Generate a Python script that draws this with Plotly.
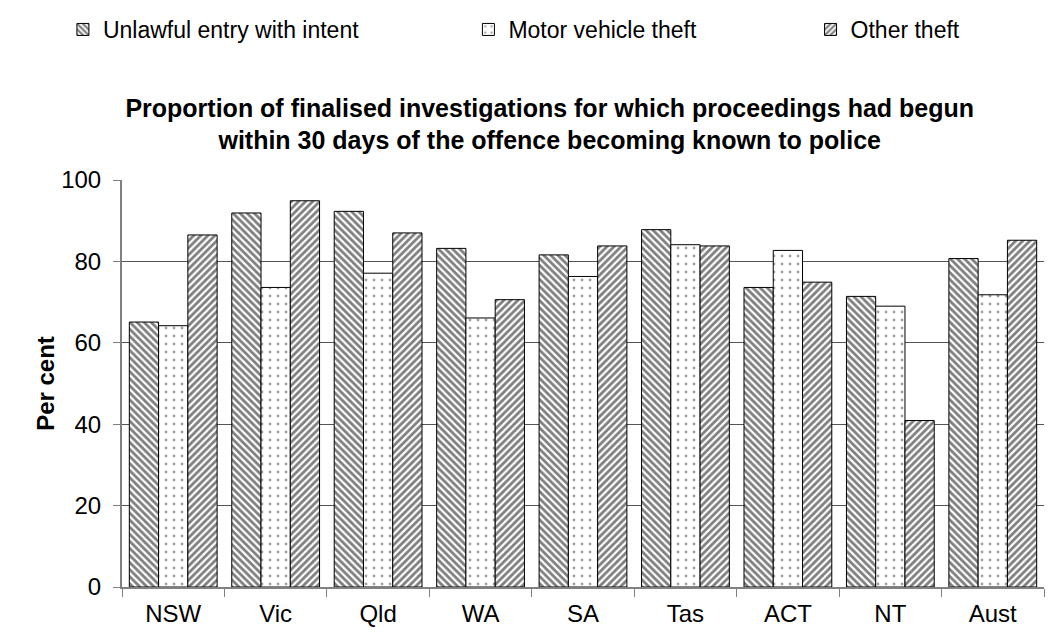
import plotly.graph_objects as go

categories = ["NSW", "Vic", "Qld", "WA", "SA", "Tas", "ACT", "NT", "Aust"]
unlawful_entry = [65.1, 91.9, 92.3, 83.2, 81.6, 87.8, 73.6, 71.4, 80.7]
motor_vehicle = [64.2, 73.6, 77.1, 66.1, 76.3, 84.1, 82.7, 69.0, 71.8]
other_theft = [86.5, 94.9, 87.0, 70.6, 83.8, 83.8, 74.9, 40.9, 85.2]
series_names = ["Unlawful entry with intent", "Motor vehicle theft", "Other theft"]
y_ticks = [0, 20, 40, 60, 80, 100]

FONT = "Liberation Sans, Arial, sans-serif"

fig = go.Figure()
fig.add_trace(go.Bar(
    x=categories, y=unlawful_entry, name=series_names[0], legend="legend",
    marker=dict(color="white", line=dict(color="black", width=1),
                pattern=dict(shape="\\", fgcolor="black", bgcolor="white", size=5, solidity=0.55)),
))
fig.add_trace(go.Bar(
    x=categories, y=motor_vehicle, name=series_names[1], legend="legend2",
    marker=dict(color="white", line=dict(color="black", width=1),
                pattern=dict(shape=".", fgcolor="#444444", bgcolor="white", size=8, solidity=0.1)),
))
fig.add_trace(go.Bar(
    x=categories, y=other_theft, name=series_names[2], legend="legend3",
    marker=dict(color="white", line=dict(color="black", width=1),
                pattern=dict(shape="/", fgcolor="black", bgcolor="white", size=5, solidity=0.55)),
))

legend_common = dict(orientation="h", xref="container", yref="container",
                     yanchor="top", y=1.0, font=dict(family=FONT, size=23, color="black"),
                     bgcolor="rgba(0,0,0,0)", itemwidth=30)

fig.update_layout(
    width=1056, height=633,
    margin=dict(l=114, r=20, t=172, b=54),
    paper_bgcolor="white", plot_bgcolor="white",
    font=dict(family=FONT, size=23, color="black"),
    barmode="group", bargap=0.143, bargroupgap=0,
    title=dict(
        text="<b>Proportion of finalised investigations for which proceedings had begun<br>within 30 days of the offence becoming known to police</b>",
        x=0.513, xanchor="center", xref="container", y=0.8285, yref="container", yanchor="middle",
        font=dict(family=FONT, size=25, color="black"),
    ),
    legend=dict(**legend_common, x=0.052, xanchor="left"),
    legend2=dict(**legend_common, x=0.436, xanchor="left"),
    legend3=dict(**legend_common, x=0.76, xanchor="left"),
    showlegend=True,
)

fig.update_yaxes(
    range=[0, 100], tickvals=y_ticks, ticks="outside", ticklen=7, tickcolor="#808080",
    showline=True, linecolor="#808080", linewidth=2,
    showgrid=True, gridcolor="#555555", gridwidth=1,
    zeroline=False, ticklabelstandoff=7,
    tickfont=dict(family=FONT, size=24, color="black"),
    title=dict(text="<b>Per cent</b>", font=dict(family=FONT, size=24, color="black"), standoff=0),
)
fig.update_xaxes(
    ticks="outside", tickson="boundaries", ticklen=8, tickcolor="#808080",
    showline=True, linecolor="#808080", linewidth=2, ticklabelstandoff=4,
    tickfont=dict(family=FONT, size=24, color="black"),
)

fig.write_html("out.html")
